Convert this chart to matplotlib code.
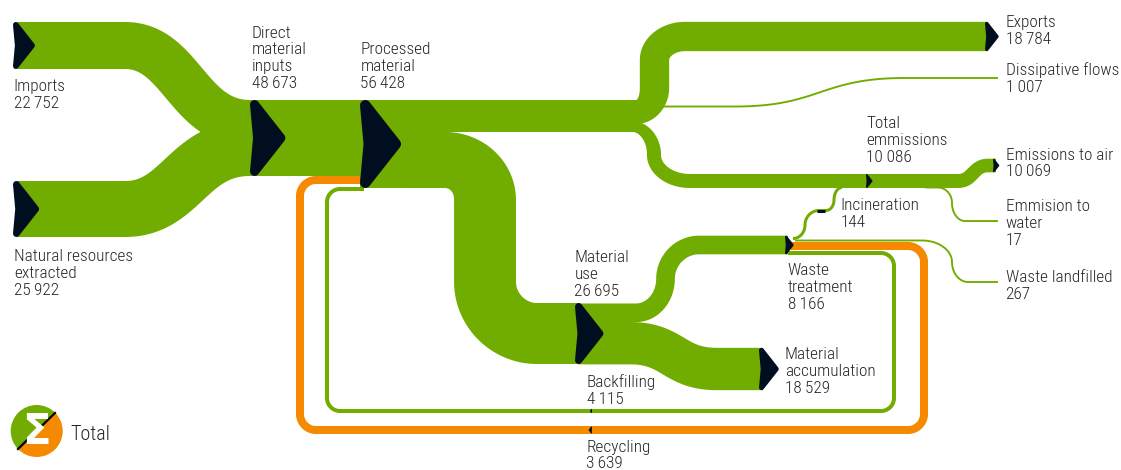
import numpy as np
import matplotlib
matplotlib.use("Agg")
import matplotlib.pyplot as plt
from matplotlib import font_manager as fm
from matplotlib.patches import Polygon, Wedge

# ---- data -------------------------------------------------------------
imports_v = 22752
natural_v = 25922
dmi_v = 48673
pm_v = 56428
exports_v = 18784
dissipative_v = 1007
emissions_v = 10086
air_v = 10069
water_v = 17
incineration_v = 144
waste_v = 8166
landfill_v = 267
use_v = 26695
accumulation_v = 18529
backfill_v = 4115
recycling_v = 3639

GREEN = "#71AD00"
ORANGE = "#F58A00"
DARK = "#010E1F"
TEXT = "#262626"

have = {f.name for f in fm.fontManager.ttflist}
FONT, FS, WEIGHT = "Liberation Sans", 10.8, 400
for name, size, weight in [("Roboto Condensed", 12.4, 300), ("Barlow Condensed", 13, 400),
                           ("Archivo Narrow", 12, 400), ("PT Sans Narrow", 12.5, 400)]:
    if name in have:
        FONT, FS, WEIGHT = name, size, weight
        break
plt.rcParams["font.family"] = [FONT, "Liberation Sans", "DejaVu Sans"]
plt.rcParams["font.weight"] = WEIGHT

fig = plt.figure(figsize=(11.21, 4.70), dpi=100)
ax = fig.add_axes([0, 0, 1, 1])
ax.set_xlim(0, 1121)
ax.set_ylim(470, 0)
ax.axis("off")


def smooth(t):
    return t * t * (3 - 2 * t)


def ribbon(start, steps, color=GREEN, z=2):
    """start=(x,y,w); steps=[(kind,x,y,w)]. Builds a tapered band along a routed centre line."""
    x, y, w = start
    P, W = [(x, y)], [w]
    for kind, x1, y1, w1 in steps:
        dx, dy = x1 - x, y1 - y
        if kind == "L":
            t = np.linspace(0, 1, 12)[1:]
            pts = np.c_[x + dx * t, y + dy * t]
        else:
            if kind == "HV":
                c1, c2 = (x + .55 * dx, y), (x1, y1 - .55 * dy)
            elif kind == "VH":
                c1, c2 = (x, y + .55 * dy), (x1 - .55 * dx, y1)
            elif kind == "M":      # merge: leaves early
                c1, c2 = (x + .45 * dx, y), (x1 - .5 * dx, y1)
            else:
                c1, c2 = (x + .5 * dx, y), (x1 - .5 * dx, y1)
            t = np.linspace(0, 1, 80)[1:]
            b = np.array([(1 - t) ** 3, 3 * (1 - t) ** 2 * t, 3 * (1 - t) * t ** 2, t ** 3]).T
            pts = b @ np.array([(x, y), c1, c2, (x1, y1)])
        P.extend(map(tuple, pts))
        W.extend(list(w + (w1 - w) * smooth(t)))
        x, y, w = x1, y1, w1
    P, W = np.array(P), np.array(W)
    T = np.gradient(P, axis=0)
    T /= np.maximum(np.hypot(T[:, 0], T[:, 1])[:, None], 1e-9)
    N = np.c_[T[:, 1], -T[:, 0]]
    up, lo = P + N * W[:, None] / 2, P - N * W[:, None] / 2
    ax.add_patch(Polygon(np.r_[up, lo[::-1]], closed=True, fc=color, ec="none", zorder=z))


def arrow(x0, yc, w, direction=1):
    """Dark node marker, sized from the band it sits on."""
    L = .49 * w
    r = max(.06 * w, .4)
    s = direction
    pts = [(x0 + s * r, yc - w / 2 + r), (x0 + s * (L - 1.4 * r), yc),
           (x0 + s * r, yc + w / 2 - r), (x0 + s * (r + .04 * w), yc)]
    ax.add_patch(Polygon(pts, closed=True, fc=DARK, ec=DARK, lw=2 * r * .72,
                         joinstyle="round", zorder=6))


K = 76 / dmi_v                    # px per unit on the main trunk
Ku = 32 / (exports_v + dissipative_v + emissions_v)   # branch to the right
Kd = 61 / use_v                   # branch down
w_imp0, w_nat0 = imports_v * .002066, natural_v * .00216
w_exp, w_em = exports_v * K, emissions_v * .00139
w_wt, w_ma = waste_v * Kd, accumulation_v * Kd
w_rec, w_back = recycling_v * .0022, backfill_v * .00097
thin = 1.9

# recycling / backfilling loops (behind the main bands)
ribbon((788, 246, w_rec), [("L", 908, 246, w_rec), ("HV", 924, 262, w_rec), ("L", 924, 414, w_rec),
                           ("VH", 908, 430, w_rec), ("L", 316, 430, w_rec), ("HV", 300, 414, w_rec),
                           ("L", 300, 196, w_rec), ("VH", 316, 180, w_rec), ("L", 364, 180, w_rec)],
       color=ORANGE, z=1)
ribbon((788, 253, w_back), [("L", 881, 253, w_back), ("HV", 894, 266, w_back), ("L", 894, 398, w_back),
                            ("VH", 881, 411, w_back), ("L", 340, 411, w_back), ("HV", 327, 398, w_back),
                            ("L", 327, 202, w_back), ("VH", 340, 189, w_back), ("L", 364, 189, w_back)], z=1)

# sources into direct material inputs (both keep their width and overlap in the trunk)
ribbon((17, 45.5, w_imp0), [("L", 125, 45.5, w_imp0), ("M", 250, 123.5, w_imp0)])
ribbon((17, 209, w_nat0), [("L", 125, 209, w_nat0), ("M", 250, 148, w_nat0)])
ribbon((248, 138, dmi_v * K), [("L", 364, 138, dmi_v * K)])
ribbon((360, 144, pm_v * K), [("L", 445, 144, pm_v * K)])

# processed material, upper branch
ribbon((400, 116, 32), [("L", 638, 116, 32)])
ribbon((630, 112, 24), [("L", 636, 112, 24), ("HV", 654.5, 88, w_exp),
                        ("L", 654.5, 60, w_exp), ("VH", 685, 36.5, w_exp),
                        ("L", 988, 36.5, w_exp)])
ribbon((640, 106.5, thin), [("L", 735, 106.5, thin), ("S", 905, 78, thin), ("L", 998, 78, thin)])
ribbon((626, 126.5, emissions_v * Ku), [("L", 632, 126.5, emissions_v * Ku), ("HV", 654, 155, w_em),
                                        ("VH", 690, 181, w_em), ("L", 958, 181, w_em),
                                        ("S", 988, 165.5, air_v * .00135), ("L", 996, 165.5, air_v * .00135)])
ribbon((925, 187.5, thin), [("L", 938, 187.5, thin), ("HV", 952, 203, thin), ("VH", 965, 221, thin),
                            ("L", 998, 221, thin)])

# processed material, lower branch
ribbon((403, 160, use_v * .0021), [("L", 445, 160, use_v * .0021), ("HV", 485, 200, use_v * .00232),
                                   ("L", 485, 281.5, use_v * .00232), ("VH", 537, 333.5, use_v * Kd),
                                   ("L", 580, 333.5, use_v * Kd)])
ribbon((578, 312.8, w_wt), [("L", 636, 312.8, w_wt), ("HV", 665.5, 279, w_wt),
                            ("VH", 699, 245, w_wt), ("L", 788, 245, w_wt)])
ribbon((578, 343.2, w_ma), [("L", 630, 343.2, w_ma), ("S", 717, 369, w_ma), ("L", 763, 369, w_ma)])

# waste treatment outputs
ribbon((793, 238.5, 3), [("HV", 805, 225, 3), ("VH", 819, 210.5, 3), ("L", 826, 210.5, 3),
                         ("HV", 834, 200, 3), ("VH", 842, 187.5, 3)])
ribbon((795, 240.5, thin), [("L", 922, 240.5, thin), ("HV", 952, 262, thin), ("VH", 968, 282, thin),
                            ("L", 998, 282, thin)])
ax.plot([817, 825], [210.5, 210.5], color=DARK, lw=2.2, solid_capstyle="butt", zorder=6)

# node markers
arrow(13, 45.5, w_imp0)
arrow(13, 209, w_nat0)
arrow(250, 138, dmi_v * K)
arrow(360, 144, pm_v * K)
arrow(575, 333.5, use_v * Kd)
arrow(759, 369, w_ma)
arrow(785, 245, w_wt)
arrow(985, 36.5, w_exp)
arrow(866, 181, w_em)
arrow(993, 165.5, air_v * .00135)
arrow(592, 430, w_rec * .9, direction=-1)
arrow(592, 411, w_back * 1.1, direction=-1)


def num(v, sep="\u2009"):
    s = f"{v:,}"
    return s.replace(",", sep)


labels = [
    (13.5, 108, f"Imports\n{num(imports_v)}"),
    (14.5, 295, f"Natural resources\nextracted\n{num(natural_v)}"),
    (251.5, 88, f"Direct\nmaterial\ninputs\n{num(dmi_v)}"),
    (360.5, 88, f"Processed\nmaterial\n{num(pm_v)}"),
    (1005.5, 43.5, f"Exports\n{num(exports_v)}"),
    (1005.5, 92, f"Dissipative flows\n{num(dissipative_v)}"),
    (866.5, 162, f"Total\nemmissions\n{num(emissions_v, ' ')}"),
    (1005.5, 176.5, f"Emissions to air\n{num(air_v)}"),
    (1005.5, 245, f"Emmision to\nwater\n{water_v}"),
    (840.5, 226.7, f"Incineration\n{incineration_v}"),
    (787.5, 309, f"Waste\ntreatment\n{num(waste_v)}"),
    (1005.5, 299, f"Waste landfilled\n{landfill_v}"),
    (574.5, 296, f"Material\nuse\n{num(use_v)}"),
    (785, 392.7, f"Material\naccumulation\n{num(accumulation_v)}"),
    (587, 404, f"Backfilling\n{num(backfill_v)}"),
    (586.5, 468.5, f"Recycling\n{num(recycling_v)}"),
]
for x, y, s in labels:
    ax.text(x, y, s, fontsize=FS, color=TEXT, ha="left", va="baseline", linespacing=1.15, zorder=8)

# total badge
ax.add_patch(Wedge((36.7, 431), 26, 135, 315, fc=GREEN, ec="none", zorder=3))
ax.add_patch(Wedge((36.7, 431), 26, 315, 495, fc=ORANGE, ec="none", zorder=3))
ax.plot([18, 55], [449, 413], color="black", lw=1.6, zorder=4)
ax.text(36.5, 432, "\u03a3", color="white", fontsize=30, fontweight="bold", family="DejaVu Sans",
        ha="center", va="center", zorder=5)
ax.text(70.5, 440, "Total", fontsize=14.5, color=TEXT, ha="left", va="baseline", zorder=8)

fig.savefig("out.png", dpi=100, facecolor="white")
